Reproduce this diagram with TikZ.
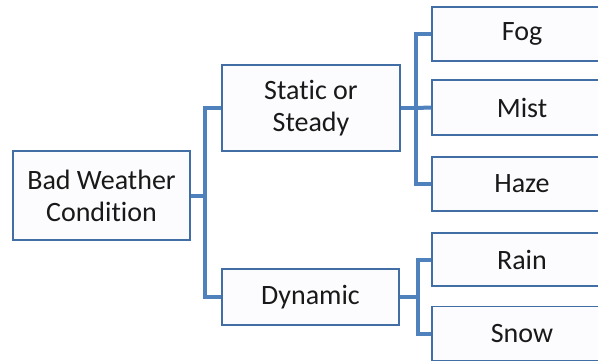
\documentclass[tikz,border=0pt]{standalone}
\usepackage{fontspec}
\setmainfont{Carlito}[Ligatures=NoCommon]
\usepackage{xcolor}
\usepackage{tikz}

\definecolor{linkblue}{RGB}{79,129,189}
\definecolor{boxblue}{RGB}{65,110,165}
\definecolor{boxfill}{RGB}{252,252,254}

\tikzset{
    catbox/.style={draw=boxblue, line width=1.5pt, fill=boxfill, align=center,
        inner sep=0pt, text=black!90, font=\fontsize{28}{32}\selectfont},
    leafbox/.style={catbox, minimum width=180pt, minimum height=54pt},
    link/.style={draw=linkblue, line width=4pt}
}

\begin{document}
\begin{tikzpicture}[x=1pt, y=-1pt]
        \clip (0,0) rectangle (598,362);

        \node[catbox, minimum width=177pt, minimum height=89pt] (bad) at (101.5, 195.5) {Bad Weather\\Condition};
        \node[catbox, minimum width=178pt, minimum height=86pt] (static) at (311, 108) {Static or\\Steady};
        \node[catbox, minimum width=177pt, minimum height=56pt] (dynamic) at (310.5, 297) {Dynamic};

        \node[leafbox] (fog) at (522, 34) {Fog};
        \node[leafbox, minimum height=55pt] (mist) at (522, 107.5) {Mist};
        \node[leafbox] (haze) at (522, 184) {Haze};
        \node[leafbox, minimum height=53pt] (rain) at (522, 259.5) {Rain};
        \node[leafbox] (snow) at (522, 333.5) {Snow};

        \coordinate (j0) at (205, 195.5);
        \coordinate (j1) at (416, 108);
        \coordinate (j2) at (418, 297);

        \draw[link] (bad.east) -- (j0) |- (static.west);
        \draw[link] (j0) |- (dynamic.west);

        \draw[link] (static.east) -- (j1) |- (fog.west);
        \draw[link] (j1) -- (mist.west);
        \draw[link] (j1) |- (haze.west);

        \draw[link] (dynamic.east) -- (j2) |- (rain.west);
        \draw[link] (j2) |- (snow.west);
    \end{tikzpicture}
\end{document}
